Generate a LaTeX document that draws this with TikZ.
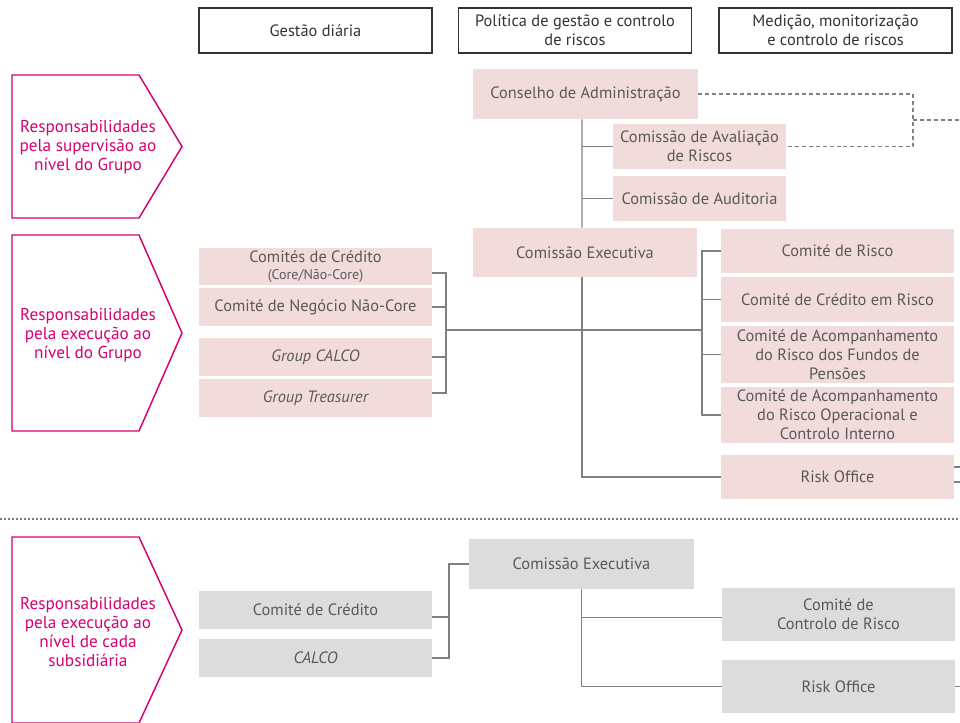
\documentclass[tikz,border=0pt]{standalone}
\usepackage{fontspec}
\setmainfont{PT Sans}
\usetikzlibrary{calc}
\definecolor{TagClr}{rgb}{0.84,0,0.44}
\definecolor{PinkClr}{rgb}{0.949,0.863,0.859}
\definecolor{GreyClr}{rgb}{0.863,0.863,0.863}
\definecolor{TextClr}{rgb}{0.35,0.35,0.35}
\definecolor{LineClr}{rgb}{0.5,0.5,0.5}
\definecolor{HeadClr}{rgb}{0.2,0.2,0.2}

\begin{document}
\begin{tikzpicture}[x=0.75pt,y=-0.75pt,
  sz/.style 2 args={minimum width=#1*0.75pt,minimum height=#2*0.75pt},
  box/.style={inner sep=0pt,align=center,text=TextClr,font=\fontsize{12.3}{14.25}\selectfont},
  pinkbox/.style={box,fill=PinkClr},
  greybox/.style={box,fill=GreyClr},
  headbox/.style={draw=HeadClr,line width=0.9pt,inner sep=0pt,sz={233}{45},align=center,
    text=HeadClr,font=\fontsize{12.3}{14.25}\selectfont},
  link/.style={draw=LineClr,line width=0.9pt},
  dashlink/.style={link,dash pattern=on 3pt off 2.2pt},
  tag/.style={draw=TagClr,line width=1.1pt,line join=miter},
  tagtext/.style={text=TagClr,align=center,font=\fontsize{12.9}{14.25}\selectfont}]
\useasboundingbox (0,0) rectangle (960,722);

% colunas
\node[headbox] (h1) at (315.5,30.5) {Gestão diária};
\node[headbox] (h2) at (575,30.5) {Política de gestão e controlo\\de riscos};
\node[headbox] (h3) at (835.5,30.5) {Medição, monitorização\\e controlo de riscos};

% niveis
\foreach \t/\b in {75/218,235/431,537/723}
  \draw[tag] (12,\t) -- (139,\t) -- (182,{(\t+\b)/2}) -- (139,\b) -- (12,\b) -- cycle;
\node[tagtext] (t1) at (88,147) {Responsabilidades\\pela supervisão ao\\nível do Grupo};
\node[tagtext] (t2) at (88,335) {Responsabilidades\\pela execução ao\\nível do Grupo};
\node[tagtext] (t3) at (88,632) {Responsabilidades\\pela execução ao\\nível de cada\\subsidiária};

% grupo
\node[pinkbox,sz={225}{50}] (ca) at (585.5,94) {Conselho de Administração};
\node[pinkbox,sz={173}{45}] (car) at (699.5,146.5) {Comissão de Avaliação\\de Riscos};
\node[pinkbox,sz={173}{45}] (caud) at (699.5,198.5) {Comissão de Auditoria};
\node[pinkbox,sz={224}{49}] (ce) at (585,252.5) {Comissão Executiva};

\node[pinkbox,sz={233}{44}] (cr) at (837.5,251) {Comité de Risco};
\node[pinkbox,sz={233}{45}] (ccr) at (837.5,299.5) {Comité de Crédito em Risco};
\node[pinkbox,sz={233}{57}] (cfp) at (837.5,354.5) {Comité de Acompanhamento\\do Risco dos Fundos de\\Pensões};
\node[pinkbox,sz={233}{56}] (cro) at (837.5,415) {Comité de Acompanhamento\\do Risco Operacional e\\Controlo Interno};
\node[pinkbox,sz={233}{44}] (ro) at (837.5,477) {Risk Office};

\node[pinkbox,sz={233}{37}] (cc) at (315.5,266.5) {Comités de Crédito\\[-1.5pt]{\fontsize{10.5}{12}\selectfont(Core/Não-Core)}};
\node[pinkbox,sz={233}{38}] (cn) at (315.5,307) {Comité de Negócio Não-Core};
\node[pinkbox,sz={233}{38}] (gc) at (315.5,357) {\itshape Group CALCO};
\node[pinkbox,sz={233}{38}] (gt) at (315.5,398) {\itshape Group Treasurer};

\coordinate (lj) at (446,330);
\coordinate (rj) at (702,330);
\coordinate (dj) at (913,120);
\coordinate (dx) at (960,120);

\draw[link] ([xshift=-2.6pt]ca.south) -- ([xshift=-2.3pt]ce.north);
\draw[link] ([xshift=-2.3pt]ce.south) |- (ro.west);
\draw[link] (car.west) -- ([xshift=-2.3pt]car.west -| ce.center);
\draw[link] (caud.west) -- ([xshift=-2.3pt]caud.west -| ce.center);
\draw[link] ([yshift=-4.9pt]cc.east) -| (lj);
\draw[link] (cn.east) -| (lj);
\draw[link] (gc.east) -| (lj);
\draw[link] ([yshift=3.7pt]gt.east) -| (lj);
\draw[link] (lj) -- (rj);
\draw[link] (cr.west) -| (rj);
\draw[link] (ccr.west) -| (rj);
\draw[link] (cfp.west) -| (rj);
\draw[link] (cro.west) -| (rj);
\draw[link] ([yshift=7.5pt]ro.east) -- ++(8,0);
\draw[link] ([yshift=-3.75pt]ro.east) -- ++(8,0);

\draw[dashlink] (ca.east) -| (dj) |- (car.east);
\draw[dashlink] (dj) -- (dx);

% separador
\coordinate (sl) at (0,519);
\coordinate (sr) at (960,519);
\draw[LineClr,line width=1.2pt,dash pattern=on 1.3pt off 1.7pt] (sl) -- (sr);

% subsidiarias
\node[greybox,sz={225}{50}] (sce) at (581.5,564) {Comissão Executiva};
\node[greybox,sz={233}{38}] (scc) at (315.5,610) {Comité de Crédito};
\node[greybox,sz={233}{38}] (scal) at (315.5,658) {\itshape CALCO};
\node[greybox,sz={233}{53}] (sccr) at (838.5,614.5) {Comité de\\Controlo de Risco};
\node[greybox,sz={233}{53}] (sro) at (838.5,686.5) {Risk Office};

\coordinate (bj) at (449,564);
\draw[link] ([yshift=-5.25pt]scc.east) -| (bj) -- (sce.west);
\draw[link] (scal.east) -| (bj);
\draw[link] (sce.south) |- ([yshift=-2pt]sccr.west);
\draw[link] (sce.south) |- (sro.west);
\draw[link] (sro.east) -- ++(8,0);
\end{tikzpicture}
\end{document}
